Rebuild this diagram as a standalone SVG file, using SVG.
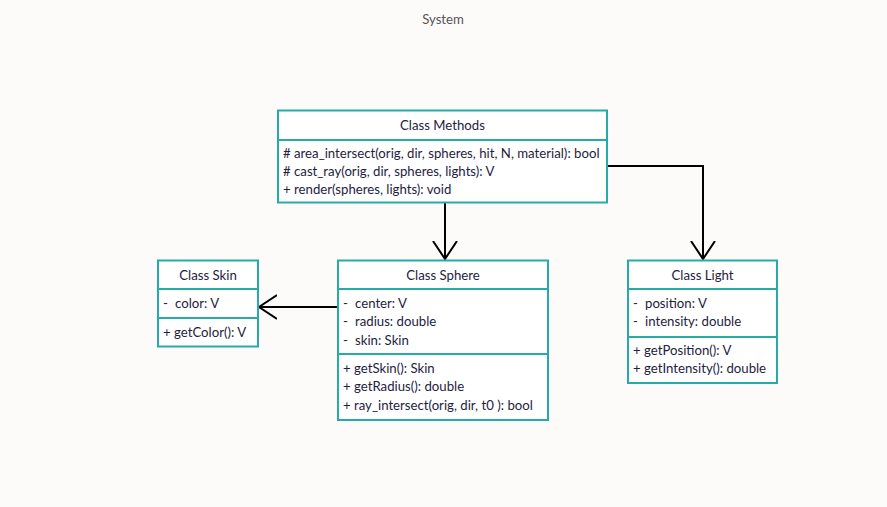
<svg xmlns="http://www.w3.org/2000/svg" width="887" height="507" viewBox="0 0 887 507">
<defs>
<style>
text{font-family:Lato,"Open Sans","Liberation Sans",sans-serif;font-size:13.2px;fill:#1e2240}
.t{text-anchor:middle}
.box{fill:#ffffff;stroke:#27aba7;stroke-width:2}
.div{stroke:#27aba7;stroke-width:2}
.con{fill:none;stroke:#000;stroke-width:2}
</style>
<marker id="arr" viewBox="0 0 20 26" refX="18" refY="13" markerWidth="20" markerHeight="26" markerUnits="userSpaceOnUse" orient="auto">
<path d="M0,1 L18,13 L0,25" fill="none" stroke="#000" stroke-width="2"/>
</marker>
</defs>
<rect width="887" height="507" fill="#fcfbf9"/>
<text x="443" y="24" class="t" style="fill:#555555">System</text>
<g id="connectors">
<path class="con" d="M445,203 L445,259" marker-end="url(#arr)"/>
<path class="con" d="M607,166 L703,166 L703,259" marker-end="url(#arr)"/>
<path class="con" d="M338,307 L259,307" marker-end="url(#arr)"/>
</g>
<g id="methods">
<rect class="box" x="278" y="110.5" width="329" height="92"/>
<line class="div" x1="278" y1="140" x2="607" y2="140"/>
<text x="442.5" y="130" class="t">Class Methods</text>
<text x="283" y="158">#  area_intersect(orig, dir, spheres, hit, N, material): bool</text>
<text x="283" y="176">#  cast_ray(orig, dir, spheres, lights): V</text>
<text x="283" y="194">+ render(spheres, lights): void</text>
</g>
<g id="skin">
<rect class="box" x="158" y="260.5" width="100" height="86"/>
<line class="div" x1="158" y1="289" x2="258" y2="289"/>
<line class="div" x1="158" y1="318" x2="258" y2="318"/>
<text x="208" y="280" class="t">Class Skin</text>
<text x="163" y="308">-<tspan x="175">color: V</tspan></text>
<text x="163" y="337">+ getColor(): V</text>
</g>
<g id="sphere">
<rect class="box" x="338" y="260.5" width="210" height="159.5"/>
<line class="div" x1="338" y1="289" x2="548" y2="289"/>
<line class="div" x1="338" y1="354" x2="548" y2="354"/>
<text x="443" y="280" class="t">Class Sphere</text>
<text x="343" y="308">-<tspan x="355">center: V</tspan></text>
<text x="343" y="326">-<tspan x="355">radius: double</tspan></text>
<text x="343" y="345">-<tspan x="355">skin: Skin</tspan></text>
<text x="343" y="373">+ getSkin(): Skin</text>
<text x="343" y="391">+ getRadius(): double</text>
<text x="343" y="410">+ ray_intersect(orig, dir, t0 ): bool</text>
</g>
<g id="light">
<rect class="box" x="628" y="260.5" width="149" height="122.5"/>
<line class="div" x1="628" y1="289" x2="777" y2="289"/>
<line class="div" x1="628" y1="337" x2="777" y2="337"/>
<text x="702.5" y="280" class="t">Class Light</text>
<text x="633" y="308">-<tspan x="645">position: V</tspan></text>
<text x="633" y="326">-<tspan x="645">intensity: double</tspan></text>
<text x="633" y="355">+ getPosition(): V</text>
<text x="633" y="373">+ getIntensity(): double</text>
</g>
</svg>
